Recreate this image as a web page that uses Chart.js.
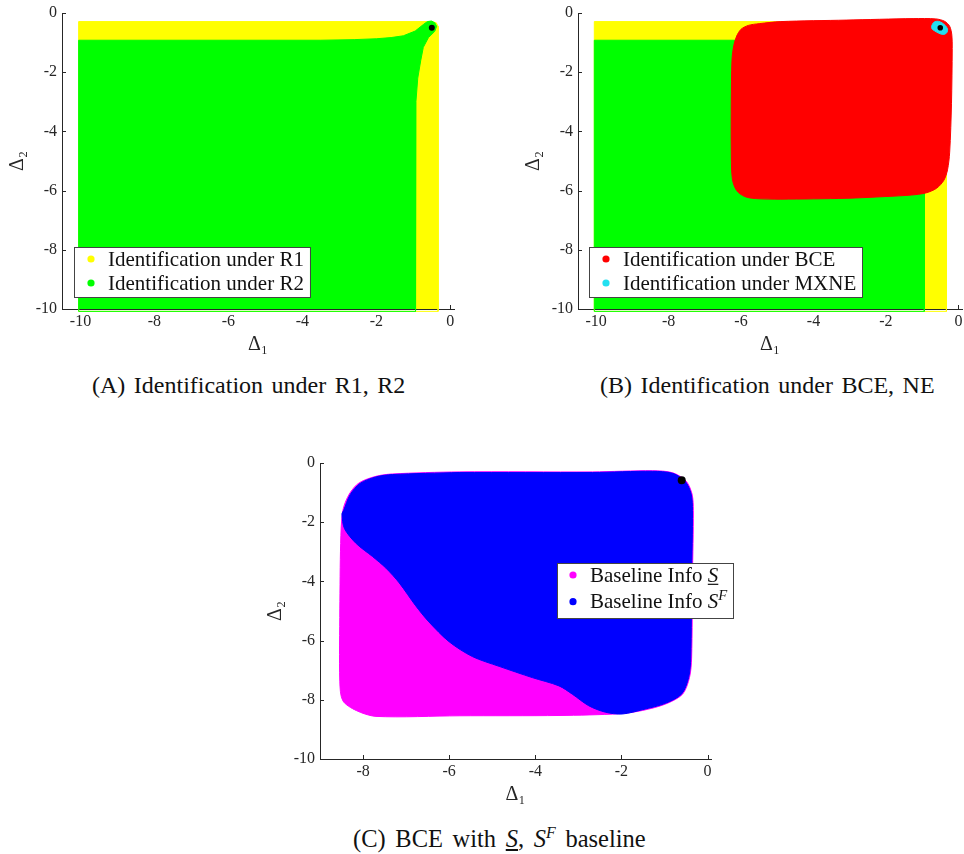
<!DOCTYPE html>
<html>
<head>
<meta charset="utf-8">
<script src="https://cdn.jsdelivr.net/npm/chart.js@4.4.1/dist/chart.umd.min.js"></script>
<style>
  html, body { margin: 0; padding: 0; background: #fff; overflow: hidden; }
  #page { position: relative; width: 964px; height: 854px; overflow: hidden; background: #fff; }
  canvas { position: absolute; }
  .cap { position: absolute; font-family: "Liberation Serif", "Times New Roman", serif; font-size: 24px; line-height: 24px; word-spacing: 2.5px; color: #111; white-space: nowrap; }
</style>
</head>
<body>
<div id="page">
  <canvas id="chartA" width="480" height="360" style="left:0;top:0"></canvas>
  <canvas id="chartB" width="452" height="360" style="left:516px;top:0"></canvas>
  <canvas id="chartC" width="480" height="360" style="left:258px;top:450px"></canvas>
  <div class="cap" style="left:92px;top:373px">(A) Identification under R1, R2</div>
  <div class="cap" style="left:600px;top:373px">(B) Identification under BCE, NE</div>
  <div class="cap" style="left:353px;top:821px;font-size:24.5px;word-spacing:3.5px">(C) BCE with <u><i>S</i></u>, <i>S</i><sup style="font-size:16px;font-style:italic">F</sup> baseline</div>
</div>
<script>
const SERIF = '"Liberation Serif", "Times New Roman", serif';
const AXIS = '#262626';

// tick labels
const xTicksAB = [-10, -8, -6, -4, -2, 0];
const xTicksC = [-8, -6, -4, -2, 0];
const yTicks = [-10, -8, -6, -4, -2, 0];

// identification under R1 (yellow) and R2 (green), outlines
const r1X = [-10.05, -0.5, -0.38, -0.33, -0.33, -10.05];
const r1Y = [-0.29, -0.29, -0.33, -0.45, -10.08, -10.08];
const r2X = [-10.05, -10.05, -3.5, -2.6, -2.0, -1.6, -1.27, -0.95, -0.73, -0.62, -0.51, -0.42, -0.37, -0.42, -0.59, -0.73, -0.8, -0.88, -0.93, -0.94, -0.94];
const r2Y = [-10.08, -0.92, -0.92, -0.9, -0.87, -0.83, -0.77, -0.61, -0.39, -0.29, -0.27, -0.33, -0.45, -0.62, -0.83, -1.16, -1.61, -2.2, -3.0, -4.0, -10.08];

// BCE (red) and MXNE (cyan)
const bceX = [-6.27, -6.25, -6.2, -6.12, -6.0, -5.8, -5.5, -4.9, -3.1, -1.25, -0.62, -0.38, -0.24, -0.18, -0.17, -0.19, -0.24, -0.3, -0.4, -0.6, -0.9, -1.3, -2.0, -3.1, -4.9, -5.6, -5.9, -6.12, -6.24, -6.27];
const bceY = [-3.05, -1.6, -1.1, -0.78, -0.55, -0.42, -0.36, -0.29, -0.24, -0.19, -0.2, -0.28, -0.45, -0.75, -1.2, -3.05, -4.7, -5.3, -5.65, -5.92, -6.08, -6.15, -6.2, -6.26, -6.29, -6.27, -6.2, -6.0, -5.6, -4.5];
const mxneX = [-0.74, -0.69, -0.6, -0.5, -0.4, -0.32, -0.3, -0.35, -0.45, -0.56, -0.66, -0.73];
const mxneY = [-0.45, -0.33, -0.28, -0.3, -0.38, -0.49, -0.6, -0.7, -0.72, -0.67, -0.6, -0.53];

// baseline info S (magenta) and S^F (blue)
const sX = [-8.54, -8.52, -8.47, -8.32, -8.09, -7.7, -7.32, -5.77, -2.67, -1.28, -0.81, -0.5, -0.36, -0.33, -0.35, -0.37, -0.42, -0.58, -0.97, -1.51, -2.05, -3.45, -5.77, -7.7, -8.16, -8.47, -8.54];
const sY = [-4.93, -2.72, -1.61, -1.05, -0.67, -0.45, -0.37, -0.30, -0.30, -0.26, -0.33, -0.61, -1.05, -1.61, -3.82, -6.59, -7.25, -7.81, -8.14, -8.36, -8.47, -8.53, -8.54, -8.56, -8.36, -8.03, -7.37];
const sfX = [-5.77, -2.67, -1.28, -0.81, -0.52, -0.38, -0.35, -0.37, -0.39, -0.44, -0.6, -0.98, -1.5, -1.98, -2.37, -2.76, -3.14, -3.45, -4.07, -4.84, -5.46, -6.0, -6.47, -6.78, -7.16, -7.47, -7.78, -8.16, -8.43, -8.49, -8.45, -8.3, -8.07, -7.7, -7.32];
const sfY = [-0.32, -0.32, -0.28, -0.35, -0.62, -1.05, -1.61, -3.82, -6.59, -7.25, -7.8, -8.12, -8.33, -8.48, -8.42, -8.2, -7.81, -7.53, -7.25, -6.87, -6.54, -6.04, -5.37, -4.82, -4.05, -3.55, -3.16, -2.72, -2.22, -1.72, -1.6, -1.07, -0.69, -0.47, -0.39];

// true parameter (black dot)
const truthAB = [-0.5, -0.5];
const truthC = [-0.6, -0.58];

function region(xs, ys, color, tension) {
  const data = xs.map((x, i) => ({ x, y: ys[i] }));
  data.push(data[0]);
  return { data, showLine: true, fill: 'shape', backgroundColor: color, borderColor: color,
           borderWidth: 1, tension, pointRadius: 0, clip: 4 };
}
function dot(p, r) {
  return { data: [{ x: p[0], y: p[1] }], pointRadius: r, backgroundColor: '#000', borderWidth: 0, clip: 6 };
}

// matlab style ticks pointing into the axes
const inwardTicks = {
  id: 'inwardTicks',
  beforeDatasetsDraw(chart) {
    const { ctx, chartArea: a, scales: { x, y } } = chart;
    ctx.save();
    ctx.strokeStyle = AXIS;
    ctx.lineWidth = 1;
    ctx.beginPath();
    x.ticks.forEach(t => {
      const px = Math.round(x.getPixelForValue(t.value)) + 0.5;
      ctx.moveTo(px, a.bottom); ctx.lineTo(px, a.bottom - 4);
    });
    y.ticks.forEach(t => {
      const py = Math.round(y.getPixelForValue(t.value)) + 0.5;
      ctx.moveTo(a.left, py); ctx.lineTo(a.left + 4, py);
    });
    ctx.stroke();
    ctx.restore();
  }
};

// boxed legend with round markers, supports italic / underline / superscript parts
const boxLegend = {
  id: 'boxLegend',
  afterDraw(chart, args, o) {
    if (!o || !o.items) return;
    const ctx = chart.ctx;
    const fnt = (p, size) => (p.italic ? 'italic ' : '') + size + 'px ' + SERIF;
    ctx.save();
    let maxW = 0;
    o.items.forEach(it => {
      let w = 0;
      it.parts.forEach(p => { ctx.font = fnt(p, p.sup ? o.size * 0.7 : o.size); w += ctx.measureText(p.t).width; });
      maxW = Math.max(maxW, w);
    });
    const w = o.textX - o.x + maxW + 6;
    const h = o.rowH * o.items.length + 2;
    ctx.fillStyle = '#fff';
    ctx.fillRect(o.x, o.y, w, h);
    ctx.strokeStyle = '#444';
    ctx.lineWidth = 1;
    ctx.strokeRect(Math.round(o.x) + 0.5, Math.round(o.y) + 0.5, Math.round(w), Math.round(h));
    o.items.forEach((it, i) => {
      const cy = o.y + o.first + o.rowH * i;
      ctx.fillStyle = it.color;
      ctx.beginPath(); ctx.arc(o.markX, cy, 3.6, 0, Math.PI * 2); ctx.fill();
      let x = o.textX;
      const base = cy + o.size * 0.32;
      ctx.fillStyle = '#111';
      ctx.textBaseline = 'alphabetic';
      ctx.textAlign = 'left';
      it.parts.forEach(p => {
        const size = p.sup ? o.size * 0.7 : o.size;
        ctx.font = fnt(p, size);
        const yy = p.sup ? base - o.size * 0.42 : base;
        ctx.fillText(p.t, x, yy);
        const tw = ctx.measureText(p.t).width;
        if (p.underline) {
          ctx.fillRect(x, base + 2, tw, 1.2);
        }
        x += tw;
      });
    });
    ctx.restore();
  }
};

function axis(min, max, ticks, label, horiz) {
  return {
    type: 'linear', min, max,
    afterBuildTicks: s => { s.ticks = ticks.map(v => ({ value: v })); },
    afterFit: s => { if (horiz) s.height = 51; else s.width = 62; },
    grid: { drawOnChartArea: false, drawTicks: false },
    border: { color: AXIS, width: 1 },
    ticks: { padding: 5, color: AXIS, font: { family: SERIF, size: 16, lineHeight: 1 }, callback: v => String(v) },
    title: { display: true, text: label, color: AXIS, font: { family: SERIF, size: 20, lineHeight: 1.2 },
             padding: horiz ? { top: 0, bottom: 3 } : { top: 6, bottom: 0 } }
  };
}

function panel(id, xMin, xMax, xTicks, datasets, legend, padRight) {
  return new Chart(document.getElementById(id), {
    type: 'scatter',
    data: { datasets },
    options: {
      responsive: false,
      animation: false,
      events: [],
      layout: { padding: { top: 8, right: padRight, bottom: 0, left: 0 } },
      plugins: { legend: { display: false }, tooltip: { enabled: false }, boxLegend: legend },
      scales: {
        x: axis(xMin, xMax, xTicks, 'Δ₁', true),
        y: axis(-10, 0, yTicks, 'Δ₂', false)
      }
    },
    plugins: [inwardTicks, boxLegend]
  });
}

// chart.js paints the first dataset on top, so layers go top first
panel('chartA', -10.5, 0.1, xTicksAB, [
  dot(truthAB, 3),
  region(r2X, r2Y, '#00ff00', 0),
  region(r1X, r1Y, '#ffff00', 0)
], {
  x: 74, y: 247, markX: 91, textX: 108, rowH: 24, first: 12, size: 21,
  items: [
    { color: '#ffff00', parts: [{ t: 'Identification under R1' }] },
    { color: '#00ff00', parts: [{ t: 'Identification under R2' }] }
  ]
}, 26);

panel('chartB', -10.5, 0.1, xTicksAB, [
  dot(truthAB, 2.8),
  region(mxneX, mxneY, '#22e0f0', 0.4),
  region(bceX, bceY, '#ff0000', 0.3),
  region(r2X, r2Y, '#00ff00', 0),
  region(r1X, r1Y, '#ffff00', 0)
], {
  x: 73, y: 247, markX: 90, textX: 107, rowH: 24, first: 12, size: 21,
  items: [
    { color: '#ff0000', parts: [{ t: 'Identification under BCE' }] },
    { color: '#22e0f0', parts: [{ t: 'Identification under MXNE' }] }
  ]
}, 6);

panel('chartC', -9, 0.08, xTicksC, [
  dot(truthC, 4),
  region(sfX, sfY, '#0000ff', 0.3),
  region(sX, sY, '#ff00ff', 0.3)
], {
  x: 299, y: 113, markX: 315, textX: 332, rowH: 26.7, first: 12, size: 21,
  items: [
    { color: '#ff00ff', parts: [{ t: 'Baseline Info ' }, { t: 'S', italic: true, underline: true }] },
    { color: '#0000ff', parts: [{ t: 'Baseline Info ' }, { t: 'S', italic: true }, { t: 'F', italic: true, sup: true }] }
  ]
}, 27);
</script>
</body>
</html>
